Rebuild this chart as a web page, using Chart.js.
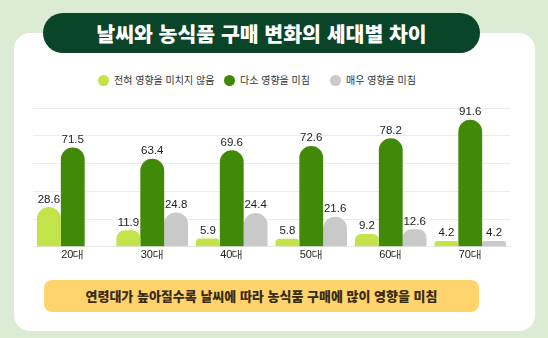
<!DOCTYPE html>
<html lang="ko">
<head>
<meta charset="utf-8">
<script src="https://cdn.jsdelivr.net/npm/chart.js@4"></script>
<style>
  html, body { margin: 0; padding: 0; }
  body {
    width: 548px; height: 338px; position: relative; overflow: hidden;
    background: #dcecd4;
    font-family: "Noto Sans CJK KR", "Noto Sans", sans-serif;
  }
  .panel {
    position: absolute; left: 14px; top: 33px; width: 521px; height: 298px;
    background: #fff; border-radius: 16px;
  }
  .title {
    position: absolute; left: 43px; top: 13px; width: 437px; height: 40px;
    background: #0a4429; border-radius: 20px;
    color: #fff; font-weight: 900; font-size: 20.5px; line-height: 40px; text-align: center;
  }
  .legend { position: absolute; top: 73px; font-size: 10px; color: #333; line-height: 14px; }
  .legend span.dot {
    display: inline-block; width: 11px; height: 11px; border-radius: 50%;
    vertical-align: -2px; margin-right: 5px;
  }
  .footer {
    position: absolute; left: 44px; top: 280px; width: 435px; height: 32px;
    background: #ffd46c; border-radius: 8px;
    color: #3a2c14; font-weight: 900; font-size: 13px; line-height: 32px; text-align: center;
  }
  #chart { position: absolute; left: 0; top: 0; }
</style>
</head>
<body>
<div class="panel"></div>
<div class="title">날씨와 농식품 구매 변화의 세대별 차이</div>
<div class="legend" id="lg0" style="left:98px"></div>
<div class="legend" id="lg1" style="left:224px"></div>
<div class="legend" id="lg2" style="left:330px"></div>
<canvas id="chart" width="548" height="338"></canvas>
<div class="footer">연령대가 높아질수록 날씨에 따라 농식품 구매에 많이 영향을 미침</div>
<script>
const categories = ['20대', '30대', '40대', '50대', '60대', '70대'];
const seriesNames = ['전혀 영향을 미치지 않음', '다소 영향을 미침', '매우 영향을 미침'];
const noneValues = [28.6, 11.9, 5.9, 5.8, 9.2, 4.2];
const someValues = [71.5, 63.4, 69.6, 72.6, 78.2, 91.6];
const muchValues = [0, 24.8, 24.4, 21.6, 12.6, 4.2];
const colors = ['#c2e34a', '#418a08', '#c9c9c9'];

seriesNames.forEach((name, i) => {
    document.getElementById('lg' + i).innerHTML =
        `<span class="dot" style="background:${colors[i]}"></span>${name}`;
});

// draws the value above each bar
const valueLabels = {
    id: 'valueLabels',
    afterDatasetsDraw(chart) {
        const ctx = chart.ctx;
        ctx.save();
        ctx.font = '11.5px "Liberation Sans", Arial, sans-serif';
        ctx.fillStyle = '#222';
        ctx.textAlign = 'center';
        ctx.textBaseline = 'bottom';
        chart.data.datasets.forEach((ds, di) => {
            chart.getDatasetMeta(di).data.forEach((bar, i) => {
                const v = ds.data[i];
                if (!v) return;
                ctx.fillText(v.toFixed(1), bar.x, bar.y - 2);
            });
        });
        ctx.restore();
    }
};

const ctx = document.getElementById('chart').getContext('2d');
new Chart(ctx, {
    type: 'bar',
    data: {
        labels: categories,
        datasets: [noneValues, someValues, muchValues].map((d, i) => ({
            label: seriesNames[i],
            data: d,
            backgroundColor: colors[i],
            borderRadius: { topLeft: 12, topRight: 12 },
            borderSkipped: 'bottom',
            categoryPercentage: 0.9,
            barPercentage: 1.0
        }))
    },
    options: {
        responsive: false,
        animation: false,
        layout: { padding: { left: 33, right: 38, top: 108, bottom: 74 } },
        plugins: { legend: { display: false }, tooltip: { enabled: false } },
        scales: {
            x: {
                grid: { display: false, drawTicks: false },
                border: { color: '#e6e6e6' },
                ticks: { color: '#222', font: { size: 11, family: 'Liberation Sans' }, padding: 2 }
            },
            y: {
                min: 0, max: 100,
                ticks: { display: false, stepSize: 20 },
                grid: { color: '#ececec', drawTicks: false },
                border: { display: false }
            }
        }
    },
    plugins: [valueLabels]
});
</script>
</body>
</html>
